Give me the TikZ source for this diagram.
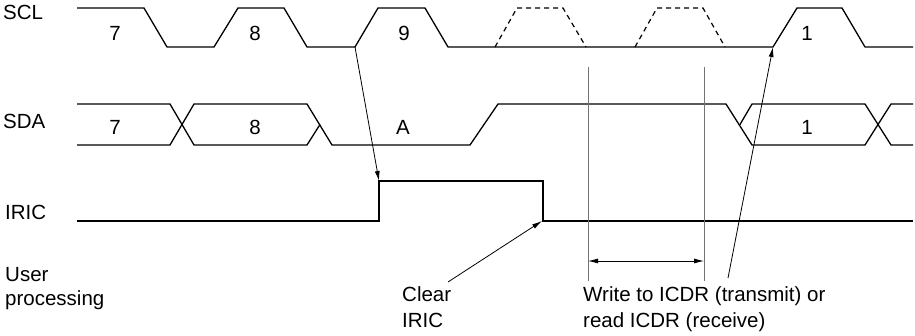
\documentclass[tikz,border=0pt]{standalone}
\usepackage{fontspec}
\setmainfont{Liberation Sans}
\usetikzlibrary{arrows.meta}
\begin{document}
\begin{tikzpicture}[x=1pt,y=-1pt,
  wave/.style={line width=1.3pt, line join=miter},
  ghost/.style={line width=1.2pt, dash pattern=on 5pt off 4pt},
  guide/.style={line width=1pt, draw=black!55},
  pointer/.style={line width=0.8pt, -{Latex[length=10pt,width=5pt]}},
  span/.style={line width=0.8pt, {Latex[length=10pt,width=5pt]}-{Latex[length=10pt,width=5pt]}},
  lbl/.style={inner sep=0pt, font=\fontsize{20.5}{24}\selectfont},
]
\useasboundingbox (0,0) rectangle (915,336);

% signal names
\node[lbl, anchor=base west] (nscl) at (3,19.5) {SCL};
\node[lbl, anchor=base west] (nsda) at (3,129) {SDA};
\node[lbl, anchor=base west] (niric) at (5,220) {IRIC};
\node[lbl, anchor=base west] (nuser) at (5,282) {User};
\node[lbl, anchor=base west] (nproc) at (5,306) {processing};

% SCL
\draw[wave] (77,8) -- (144,8) -- (167,47) -- (214,47) -- (238,8) -- (284,8) -- (307,47) -- (355,47) -- (378,8) -- (425,8) -- (448,47) -- (773,47) -- (797,8) -- (842,8) -- (865,47) -- (913,47);
\draw[ghost] (495,47) -- (517,8) -- (563,8) -- (586,47);
\draw[ghost] (635,47) -- (657,8) -- (703,8) -- (725,47);
\node[lbl, anchor=base] (c7) at (115,41) {7};
\node[lbl, anchor=base] (c8) at (255,41) {8};
\node[lbl, anchor=base] (c9) at (404,41) {9};
\node[lbl, anchor=base] (c1) at (807,41) {1};

% SDA
\draw[wave] (77,104) -- (170,104) -- (194,145) -- (307,145) -- (320,124.5);
\draw[wave] (77,145) -- (170,145) -- (194,104) -- (307,104) -- (332,145) -- (470,145) -- (498,104) -- (726,104) -- (752,145) -- (865,145) -- (891,104) -- (913,104);
\draw[wave] (740,124.5) -- (752,104) -- (865,104) -- (891,145) -- (913,145);
\node[lbl, anchor=base] (d7) at (115,135) {7};
\node[lbl, anchor=base] (d8) at (255,135) {8};
\node[lbl, anchor=base] (dA) at (403,135) {A};
\node[lbl, anchor=base] (d1) at (807,135) {1};

% IRIC
\draw[wave] (77,221) -- (379,221) -- (379,181) -- (543,181) -- (543,221) -- (913,221);

% guides
\coordinate (g1t) at (588,67);
\coordinate (g1b) at (588,281);
\coordinate (g2t) at (704,67);
\coordinate (g2b) at (704,281);
\draw[guide] (g1t) -- (g1b);
\draw[guide] (g2t) -- (g2b);
\coordinate (s1) at (588,261);
\coordinate (s2) at (704,261);
\draw[span] (s1) -- (s2);

% arrows
\coordinate (a1s) at (355,47);
\coordinate (a1e) at (379,181);
\draw[pointer] (a1s) -- (a1e);
\coordinate (a2s) at (448,282);
\coordinate (a2e) at (542,221);
\draw[pointer] (a2s) -- (a2e);
\coordinate (a3s) at (728,278);
\coordinate (a3e) at (773,47);
\draw[pointer] (a3s) -- (a3e);

% bottom labels
\node[lbl, anchor=base west] (clr1) at (402,302) {Clear};
\node[lbl, anchor=base west] (clr2) at (402,328) {IRIC};
\node[lbl, anchor=base west] (wr1) at (583,302) {Write to ICDR (transmit) or};
\node[lbl, anchor=base west] (wr2) at (583,327) {read ICDR (receive)};
\end{tikzpicture}
\end{document}
